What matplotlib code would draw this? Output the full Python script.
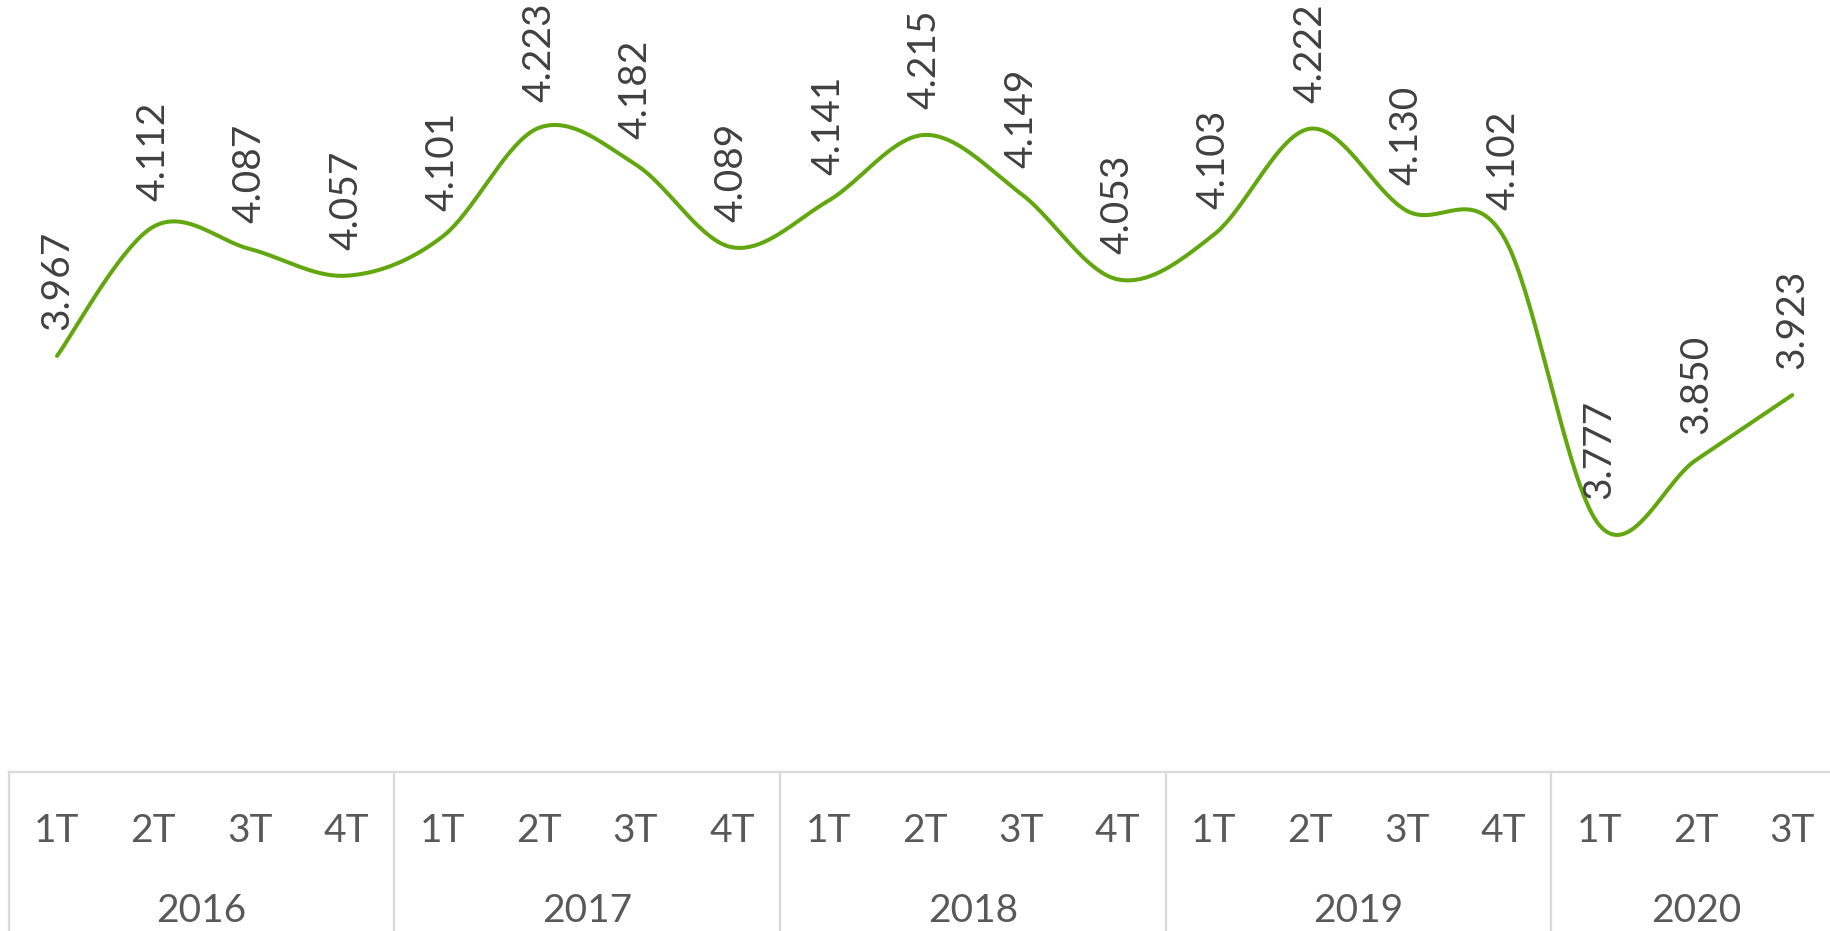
import numpy as np
import matplotlib
matplotlib.use("Agg")
from matplotlib import pyplot as plt

years = ["2016", "2017", "2018", "2019", "2020"]
quarters_per_year = [4, 4, 4, 4, 3]
quarter_labels = ["1T", "2T", "3T", "4T"] * 4 + ["1T", "2T", "3T"]
values = [3.967, 4.112, 4.087, 4.057,
          4.101, 4.223, 4.182, 4.089,
          4.141, 4.215, 4.149, 4.053,
          4.103, 4.222, 4.130, 4.102,
          3.777, 3.850, 3.923]

line_color = "#62a70f"
label_color = "#404040"
axis_color = "#595959"
grid_color = "#d9d9d9"
font = "Lato"

W, H = 1830, 931
fig = plt.figure(figsize=(W / 100, H / 100), dpi=100)

# pixel layout
left_px = 8.8
box_top_px = 772
cat_w = 96.4
x_right = (W - left_px) / cat_w - 0.5

ax = fig.add_axes([left_px / W, (H - box_top_px) / H, (W - left_px) / W, box_top_px / H])
ax.set_xlim(-0.5, x_right)
ax.set_ylim(3.5, 3.5 + box_top_px / 891)
ax.axis("off")

# smoothed line (bezier through points, like a spreadsheet "smooth line")
x = np.arange(len(values), dtype=float)
y = np.array(values)
px = np.concatenate([[x[0]], x, [x[-1]]])
py = np.concatenate([[y[0]], y, [y[-1]]])
t = np.linspace(0, 1, 40)
xs, ys = [], []
for i in range(len(values) - 1):
    p0 = np.array([px[i + 1], py[i + 1]])
    p3 = np.array([px[i + 2], py[i + 2]])
    c1 = p0 + (np.array([px[i + 2], py[i + 2]]) - np.array([px[i], py[i]])) / 6
    c2 = p3 - (np.array([px[i + 3], py[i + 3]]) - np.array([px[i + 1], py[i + 1]])) / 6
    b = ((1 - t) ** 3)[:, None] * p0 + (3 * (1 - t) ** 2 * t)[:, None] * c1 \
        + (3 * (1 - t) * t ** 2)[:, None] * c2 + (t ** 3)[:, None] * p3
    xs.extend(b[:, 0])
    ys.extend(b[:, 1])
ax.plot(xs, ys, color=line_color, lw=2.9, solid_capstyle="round", clip_on=False)

for i, v in enumerate(values):
    ax.annotate(f"{v:.3f}", (i, v), xytext=(0, 18.5), textcoords="offset points",
                rotation=90, ha="center", va="bottom", fontsize=28,
                color=label_color, family=font, annotation_clip=False)

# multi-level category axis
bx = fig.add_axes([left_px / W, 0, (W - left_px) / W, (H - box_top_px) / H])
bx.set_xlim(-0.5, x_right)
bx.set_ylim(0, 1)
bx.axis("off")
bx.axhline(1, color=grid_color, lw=1.6, clip_on=False)
start = 0
for yr, n in zip(years, quarters_per_year):
    bx.axvline(start - 0.5, color=grid_color, lw=1.6, clip_on=False)
    bx.text(start + (n - 1) / 2, 0.058, yr, ha="center", va="baseline",
            fontsize=28, color=axis_color, family=font)
    start += n
for i, q in enumerate(quarter_labels):
    bx.text(i, 0.562, q, ha="center", va="baseline", fontsize=28,
            color=axis_color, family=font)

fig.savefig("out.png", dpi=100)
